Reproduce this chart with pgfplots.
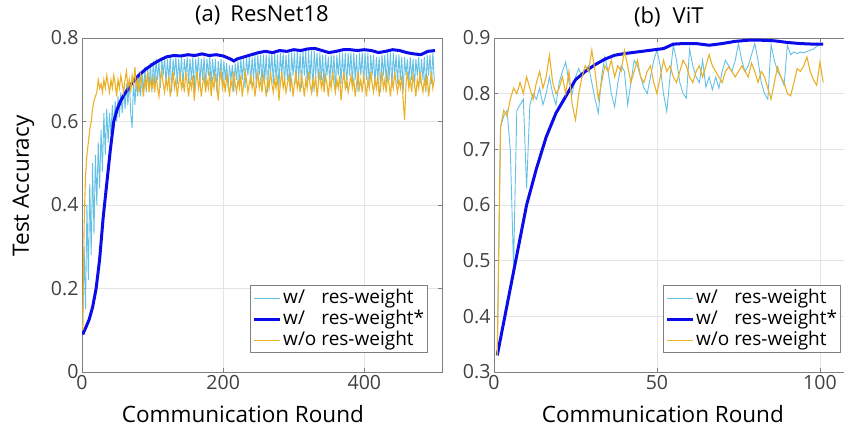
\documentclass[border=0pt]{standalone}
\usepackage{fontspec}
\setmainfont{Open Sans}
\usepackage{pgfplots}
\usepackage{pgfplotstable}
\pgfplotsset{compat=1.18}

\definecolor{cyanl}{RGB}{100,192,228}
\definecolor{blueT}{RGB}{12,12,235}
\definecolor{orangeL}{RGB}{234,176,40}
\definecolor{axgray}{RGB}{128,128,128}
\definecolor{tickgray}{RGB}{64,64,64}
\definecolor{gridgray}{RGB}{228,228,228}

\pgfplotstableread{
x c o
1 0.10 0.10
3 0.30 0.35
5 0.15 0.47
7 0.40 0.52
9 0.22 0.55
11 0.45 0.58
13 0.28 0.60
15 0.50 0.63
17 0.33 0.65
19 0.52 0.66
21 0.40 0.67
23 0.55 0.70
25 0.44 0.68
27 0.58 0.69
29 0.48 0.67
31 0.62 0.70
33 0.52 0.68
35 0.63 0.71
37 0.55 0.69
39 0.62 0.67
41 0.57 0.70
43 0.64 0.68
45 0.58 0.71
47 0.65 0.69
49 0.60 0.66
51 0.66 0.70
53 0.61 0.68
55 0.67 0.71
57 0.62 0.69
59 0.68 0.67
61 0.63 0.70
63 0.69 0.72
65 0.64 0.68
67 0.70 0.70
69 0.62 0.67
71 0.585 0.71
73 0.70 0.69
75 0.64 0.73
77 0.71 0.68
79 0.66 0.70
81 0.72 0.67
83 0.66 0.71
85 0.72 0.69
87 0.67 0.66
89 0.73 0.70
91 0.67 0.68
93 0.73 0.72
95 0.68 0.67
97 0.74 0.70
99 0.67 0.68
101 0.745 0.70
103 0.69 0.67
105 0.75 0.71
107 0.70 0.68
109 0.745 0.66
111 0.68 0.70
113 0.75 0.72
115 0.71 0.69
117 0.755 0.67
119 0.69 0.70
121 0.75 0.68
123 0.70 0.71
125 0.755 0.66
127 0.67 0.69
129 0.75 0.72
131 0.71 0.68
133 0.755 0.70
135 0.69 0.66
137 0.75 0.69
139 0.70 0.71
141 0.755 0.68
143 0.68 0.70
145 0.75 0.67
147 0.71 0.72
149 0.755 0.69
151 0.69 0.66
153 0.75 0.70
155 0.70 0.68
157 0.755 0.71
159 0.67 0.65
161 0.75 0.69
163 0.71 0.72
165 0.755 0.68
167 0.69 0.70
169 0.75 0.66
171 0.70 0.69
173 0.755 0.71
175 0.68 0.67
177 0.75 0.70
179 0.71 0.68
181 0.755 0.72
183 0.69 0.66
185 0.75 0.70
187 0.70 0.68
189 0.75 0.71
191 0.67 0.69
193 0.745 0.65
195 0.70 0.70
197 0.75 0.72
199 0.69 0.68
201 0.745 0.70
203 0.70 0.67
205 0.74 0.71
207 0.68 0.69
209 0.735 0.66
211 0.70 0.70
213 0.735 0.68
215 0.67 0.72
217 0.74 0.69
219 0.70 0.67
221 0.745 0.70
223 0.69 0.68
225 0.75 0.71
227 0.70 0.66
229 0.75 0.69
231 0.68 0.72
233 0.755 0.70
235 0.71 0.67
237 0.755 0.69
239 0.69 0.71
241 0.755 0.68
243 0.70 0.70
245 0.76 0.66
247 0.68 0.69
249 0.76 0.72
251 0.71 0.68
253 0.76 0.70
255 0.69 0.67
257 0.76 0.71
259 0.70 0.69
261 0.76 0.66
263 0.67 0.70
265 0.76 0.68
267 0.71 0.72
269 0.765 0.69
271 0.69 0.67
273 0.765 0.70
275 0.70 0.68
277 0.76 0.71
279 0.68 0.65
281 0.765 0.69
283 0.71 0.72
285 0.765 0.68
287 0.69 0.70
289 0.76 0.67
291 0.70 0.69
293 0.765 0.71
295 0.67 0.68
297 0.765 0.70
299 0.71 0.66
301 0.765 0.69
303 0.69 0.72
305 0.77 0.68
307 0.70 0.70
309 0.765 0.67
311 0.68 0.71
313 0.77 0.69
315 0.71 0.66
317 0.77 0.70
319 0.69 0.68
321 0.77 0.72
323 0.70 0.69
325 0.77 0.67
327 0.67 0.70
329 0.77 0.68
331 0.71 0.71
333 0.765 0.66
335 0.69 0.69
337 0.765 0.72
339 0.70 0.68
341 0.76 0.70
343 0.68 0.67
345 0.76 0.71
347 0.71 0.69
349 0.755 0.66
351 0.69 0.70
353 0.76 0.68
355 0.70 0.72
357 0.76 0.69
359 0.67 0.67
361 0.76 0.70
363 0.71 0.68
365 0.765 0.71
367 0.69 0.65
369 0.765 0.69
371 0.70 0.72
373 0.765 0.68
375 0.68 0.70
377 0.765 0.67
379 0.71 0.69
381 0.765 0.71
383 0.69 0.68
385 0.765 0.70
387 0.70 0.66
389 0.76 0.69
391 0.67 0.72
393 0.765 0.68
395 0.71 0.70
397 0.765 0.67
399 0.69 0.71
401 0.765 0.69
403 0.70 0.66
405 0.765 0.70
407 0.68 0.68
409 0.76 0.72
411 0.71 0.69
413 0.76 0.67
415 0.69 0.70
417 0.755 0.68
419 0.70 0.71
421 0.755 0.66
423 0.67 0.69
425 0.76 0.72
427 0.71 0.68
429 0.76 0.70
431 0.69 0.67
433 0.765 0.71
435 0.70 0.69
437 0.765 0.66
439 0.68 0.70
441 0.765 0.68
443 0.71 0.72
445 0.76 0.69
447 0.69 0.67
449 0.76 0.70
451 0.70 0.68
453 0.755 0.71
455 0.67 0.65
457 0.755 0.604
459 0.71 0.69
461 0.75 0.72
463 0.69 0.68
465 0.755 0.70
467 0.70 0.67
469 0.75 0.71
471 0.68 0.69
473 0.75 0.66
475 0.71 0.70
477 0.755 0.68
479 0.69 0.72
481 0.75 0.69
483 0.70 0.67
485 0.755 0.70
487 0.67 0.68
489 0.76 0.71
491 0.71 0.66
493 0.76 0.69
495 0.69 0.72
497 0.765 0.68
499 0.70 0.70
}\resdata

\pgfplotstableread{
x b
1 0.09
5 0.105
10 0.125
15 0.155
20 0.20
25 0.27
30 0.37
35 0.45
40 0.53
45 0.60
50 0.63
55 0.65
60 0.665
70 0.69
80 0.71
90 0.725
100 0.737
110 0.747
120 0.755
130 0.758
140 0.757
150 0.760
160 0.758
170 0.762
180 0.758
190 0.760
200 0.757
210 0.750
215 0.745
220 0.750
230 0.755
240 0.760
250 0.765
260 0.768
270 0.765
280 0.770
290 0.768
300 0.772
310 0.770
320 0.774
330 0.775
340 0.770
350 0.765
360 0.768
370 0.772
380 0.772
390 0.770
400 0.772
410 0.770
420 0.765
430 0.768
440 0.772
450 0.770
460 0.765
470 0.762
480 0.760
490 0.768
500 0.770
}\resblue

\pgfplotstableread{
x c o
1 0.33 0.33
2 0.74 0.74
3 0.76 0.77
4 0.77 0.76
5 0.70 0.79
6 0.49 0.81
7 0.77 0.80
8 0.78 0.82
9 0.79 0.80
10 0.63 0.83
11 0.78 0.81
12 0.80 0.79
13 0.79 0.82
14 0.81 0.84
15 0.78 0.81
16 0.80 0.83
17 0.83 0.869
18 0.80 0.82
19 0.78 0.80
20 0.82 0.81
21 0.84 0.83
22 0.857 0.80
23 0.82 0.84
24 0.80 0.78
25 0.83 0.753
26 0.845 0.80
27 0.83 0.83
28 0.84 0.85
29 0.85 0.84
30 0.82 0.878
31 0.79 0.84
32 0.765 0.79
33 0.83 0.82
34 0.866 0.85
35 0.84 0.84
36 0.80 0.86
37 0.776 0.83
38 0.82 0.85
39 0.85 0.84
40 0.84 0.878
41 0.78 0.85
42 0.82 0.82
43 0.86 0.84
44 0.85 0.86
45 0.83 0.83
46 0.81 0.82
47 0.80 0.84
48 0.83 0.85
49 0.86 0.82
50 0.878 0.80
51 0.85 0.83
52 0.80 0.86
53 0.768 0.84
54 0.83 0.85
55 0.887 0.83
56 0.86 0.82
57 0.82 0.84
58 0.80 0.86
59 0.792 0.85
60 0.88 0.83
61 0.85 0.82
62 0.83 0.84
63 0.82 0.85
64 0.86 0.83
65 0.812 0.85
66 0.83 0.87
67 0.807 0.85
68 0.83 0.84
69 0.81 0.83
70 0.84 0.82
71 0.86 0.84
72 0.85 0.848
73 0.84 0.84
74 0.86 0.83
75 0.89 0.84
76 0.86 0.85
77 0.84 0.84
78 0.85 0.83
79 0.87 0.855
80 0.89 0.84
81 0.86 0.82
82 0.82 0.84
83 0.80 0.83
84 0.79 0.81
85 0.888 0.79
86 0.86 0.82
87 0.84 0.848
88 0.83 0.83
89 0.815 0.82
90 0.887 0.80
91 0.87 0.796
92 0.875 0.82
93 0.872 0.845
94 0.875 0.84
95 0.873 0.85
96 0.876 0.866
97 0.878 0.84
98 0.88 0.825
99 0.885 0.815
100 0.888 0.857
101 0.889 0.82
}\vitdata

\pgfplotstableread{
x b
1 0.33
4 0.42
7 0.51
10 0.60
13 0.665
16 0.722
19 0.765
22 0.795
25 0.825
28 0.840
31 0.852
34 0.862
37 0.869
40 0.872
44 0.875
48 0.878
52 0.881
55 0.889
58 0.890
62 0.890
66 0.887
70 0.890
74 0.894
78 0.896
82 0.896
86 0.895
90 0.892
94 0.890
98 0.889
101 0.889
}\vitblue

\pgfplotsset{
  mystyle/.style={
    scale only axis,
    height=334pt,
    axis line style={axgray, line width=0.8pt},
    grid=major,
    major grid style={gridgray, line width=0.6pt},
    tick style={axgray, line width=0.6pt},
    tick align=inside,
    major tick length=4pt,
    ticklabel style={font=\fontsize{19.5}{22}\selectfont, text=tickgray},
    /pgf/number format/assume math mode=true,
    label style={font=\fontsize{22.5}{26}\selectfont},
    title style={font=\fontsize{22}{26}\selectfont, anchor=base},
    legend cell align=left,
    legend style={font=\fontsize{19}{22}\selectfont, draw=axgray, line width=0.7pt,
      inner sep=2pt, row sep=0pt,
      nodes={inner sep=1.5pt, text height=14pt, text depth=4pt}},
    legend image code/.code={\draw[#1] (0pt,0pt) -- (26pt,0pt);},
  }
}

\begin{document}
\begin{tikzpicture}[x=1pt,y=1pt]
\path[use as bounding box] (0,0) rectangle (844,429);
\begin{axis}[mystyle,
  at={(82pt,57pt)}, anchor=south west,
  width=360pt,
  xmin=0, xmax=510, ymin=0, ymax=0.8,
  xtick={0,200,400}, ytick={0,0.2,0.4,0.6,0.8},
  title={(a)\hspace{10pt}ResNet18},
  title style={at={(axis description cs:0.5,1.03)}},
  xlabel={Communication Round},
  xlabel style={at={(axis description cs:0.447,-0.152)}, anchor=base, inner sep=0.5pt},
  ylabel={Test Accuracy},
  ylabel style={at={(axis description cs:-0.1625,0.557)}, anchor=center},
  legend style={at={(0.961,0.057)}, anchor=south east},
]
\addplot[cyanl, line width=0.9pt] table[x=x, y=c] {\resdata};
\addlegendentry{w/\phantom{o} res-weight}
\addplot[blueT, line width=3pt] table[x=x, y=b] {\resblue};
\addlegendentry{w/\phantom{o} res-weight*}
\addplot[orangeL, line width=1.1pt] table[x=x, y=o] {\resdata};
\addlegendentry{w/o res-weight}
\end{axis}

\begin{axis}[mystyle,
  at={(494pt,57pt)}, anchor=south west,
  width=354pt,
  xmin=0, xmax=108.6, ymin=0.3, ymax=0.9,
  xtick={0,50,100}, ytick={0.3,0.4,0.5,0.6,0.7,0.8,0.9},
  title={(b)\hspace{12pt}ViT},
  title style={at={(axis description cs:0.494,1.024)}},
  xlabel={Communication Round},
  xlabel style={at={(axis description cs:0.477,-0.152)}, anchor=base, inner sep=0.5pt},
  legend style={at={(0.980,0.057)}, anchor=south east},
]
\addplot[cyanl, line width=0.9pt] table[x=x, y=c] {\vitdata};
\addlegendentry{w/\phantom{o} res-weight}
\addplot[blueT, line width=3pt] table[x=x, y=b] {\vitblue};
\addlegendentry{w/\phantom{o} res-weight*}
\addplot[orangeL, line width=1.1pt] table[x=x, y=o] {\vitdata};
\addlegendentry{w/o res-weight}
\end{axis}
\end{tikzpicture}
\end{document}
